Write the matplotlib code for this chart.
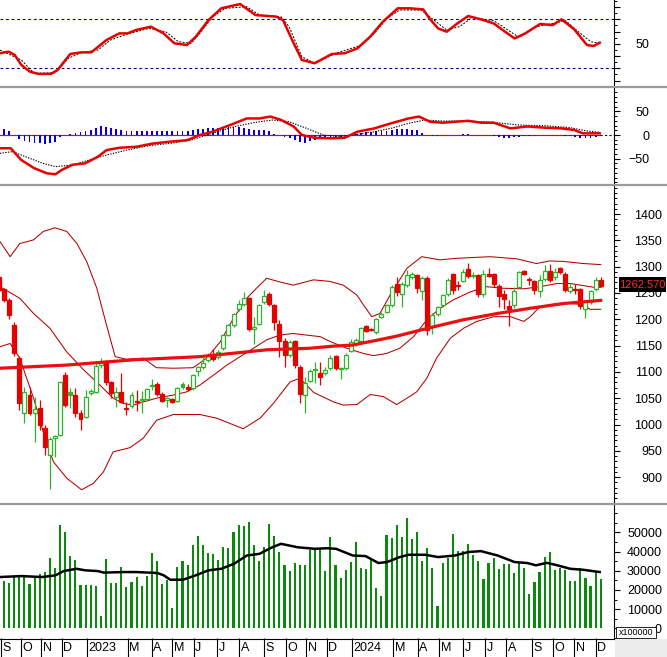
import numpy as np
import matplotlib.pyplot as plt
from matplotlib.patches import Rectangle
from matplotlib.lines import Line2D
from matplotlib.ticker import MultipleLocator

plt.rcParams['font.family'] = ['Liberation Sans', 'DejaVu Sans']

# ==============================
# DATA (weekly, first candle is cut by the left edge)
# ==============================
c_open = [1281, 1257, 1237, 1190, 1127, 1022, 1056, 1021, 1031, 993,
          942, 975, 981, 1094, 1056, 1056, 1022, 1014, 1060, 1062,
          1113, 1120, 1080, 1053, 1062, 1032, 1035, 1044, 1046, 1049,
          1074, 1077, 1058, 1047, 1048, 1045, 1071, 1072, 1069, 1102,
          1109, 1123, 1132, 1128, 1145, 1170, 1189, 1219, 1230, 1240,
          1181, 1192, 1233, 1248, 1227, 1192, 1158, 1132, 1158, 1110,
          1056, 1083, 1103, 1097, 1097, 1107, 1130, 1106, 1107, 1140,
          1154, 1159, 1187, 1181, 1175, 1205, 1214, 1227, 1267, 1248,
          1265, 1280, 1284, 1254, 1278, 1186, 1211, 1227, 1249, 1286,
          1266, 1273, 1295, 1282, 1284, 1248, 1287, 1286, 1263, 1249,
          1225, 1227, 1262, 1292, 1276, 1272, 1253, 1276, 1292, 1280,
          1298, 1286, 1254, 1258, 1257, 1219, 1232, 1257, 1275]
c_close = [1256, 1237, 1208, 1135, 1040, 1062, 1022, 1029, 999, 958,
           972, 978, 1081, 1037, 1062, 1022, 1010, 1053, 1063, 1112,
           1116, 1080, 1059, 1062, 1043, 1029, 1056, 1042, 1048, 1068,
           1076, 1058, 1045, 1051, 1043, 1069, 1077, 1067, 1094, 1109,
           1116, 1132, 1124, 1138, 1170, 1189, 1210, 1229, 1241, 1181,
           1186, 1227, 1244, 1229, 1195, 1158, 1132, 1156, 1113, 1058,
           1078, 1102, 1106, 1091, 1104, 1127, 1107, 1108, 1132, 1156,
           1161, 1183, 1178, 1179, 1200, 1211, 1227, 1262, 1251, 1267,
           1284, 1286, 1259, 1278, 1180, 1208, 1223, 1246, 1275, 1255,
           1264, 1290, 1282, 1284, 1248, 1286, 1282, 1267, 1244, 1238,
           1219, 1254, 1289, 1286, 1274, 1255, 1275, 1292, 1274, 1289,
           1289, 1256, 1262, 1256, 1225, 1232, 1253, 1274, 1262.57]
c_high = [1285, 1260, 1240, 1195, 1130, 1072, 1072, 1053, 1047, 999,
          977, 980, 1083, 1100, 1069, 1069, 1028, 1066, 1068, 1120,
          1127, 1122, 1083, 1072, 1097, 1043, 1062, 1066, 1064, 1069,
          1086, 1080, 1061, 1053, 1051, 1072, 1080, 1077, 1096, 1112,
          1128, 1135, 1143, 1141, 1173, 1192, 1212, 1237, 1252, 1243,
          1205, 1230, 1256, 1251, 1229, 1198, 1164, 1160, 1160, 1113,
          1091, 1106, 1119, 1119, 1110, 1132, 1132, 1110, 1135, 1162,
          1164, 1186, 1189, 1183, 1202, 1213, 1230, 1266, 1281, 1270,
          1293, 1290, 1287, 1282, 1282, 1212, 1226, 1248, 1278, 1288,
          1272, 1295, 1307, 1290, 1287, 1293, 1297, 1288, 1268, 1255,
          1236, 1262, 1291, 1294, 1281, 1274, 1284, 1303, 1305, 1297,
          1300, 1289, 1268, 1268, 1259, 1236, 1255, 1280, 1281]
c_low = [1252, 1233, 1200, 1130, 1028, 1002, 1018, 967, 990, 942,
         877, 938, 978, 1034, 1031, 1015, 990, 1012, 1056, 1060,
         1108, 1076, 1050, 1034, 1040, 1018, 1031, 1025, 1021, 1045,
         1066, 1054, 1042, 1033, 1040, 1043, 1068, 1064, 1066, 1092,
         1105, 1118, 1120, 1125, 1142, 1168, 1186, 1216, 1226, 1178,
         1153, 1190, 1230, 1226, 1180, 1129, 1110, 1128, 1108, 1040,
         1022, 1080, 1078, 1075, 1094, 1104, 1104, 1086, 1104, 1138,
         1150, 1157, 1176, 1177, 1173, 1203, 1212, 1224, 1245, 1224,
         1262, 1277, 1250, 1236, 1170, 1173, 1207, 1224, 1245, 1248,
         1256, 1270, 1279, 1278, 1243, 1243, 1280, 1262, 1224, 1220,
         1187, 1222, 1260, 1284, 1266, 1248, 1242, 1272, 1270, 1275,
         1286, 1252, 1250, 1248, 1220, 1202, 1229, 1254, 1262]
green_filled = [13, 35]
last_price = "1262.570"

volume = [24700, 23600, 26900, 26900, 26900, 23100, 26200, 28300, 29300, 36600,
          31400, 53800, 50200, 37700, 35600, 22600, 22600, 22600, 22000, 6400,
          36100, 23600, 23600, 31900, 21500, 24100, 26700, 22000, 27300, 39200,
          35000, 23100, 25200, 10600, 31900, 35000, 33000, 43400, 48100, 43400,
          39200, 38700, 35600, 42400, 41800, 50200, 53800, 53300, 55400, 43400,
          35000, 42400, 54300, 48100, 39800, 33000, 29900, 34000, 33000, 33000,
          40800, 41800, 41600, 29700, 47400, 33000, 26200, 30400, 34500, 45000,
          31400, 30900, 35600, 21000, 16800, 48600, 47000, 53800, 47600, 57500,
          46500, 50200, 35000, 41800, 31400, 11600, 34000, 36600, 49000, 40300,
          40300, 43900, 38200, 35000, 25700, 34000, 36600, 30900, 33500, 33500,
          28800, 34500, 31400, 17900, 24100, 29300, 37200, 39800, 30400, 31400,
          30400, 24700, 24700, 31400, 26200, 22000, 29300, 25700]

vol_ma_x = [-0.8, 3.4, 7.5, 10.1, 11.7, 14.2, 15.9, 18.4, 19.6, 23.4,
            25.9, 30.1, 31.3, 32.6, 35.1, 37.6, 40.1, 42.6, 45.1, 47.6,
            50.1, 52.6, 54.3, 57.6, 60.9, 63.4, 65.1, 68.4, 70.9, 73.4,
            75.1, 77.6, 79.3, 82.6, 85.1, 88.4, 91.0, 93.5, 96.8, 100.1,
            102.6, 104.3, 106.4, 108.5, 111.0, 113.5, 116.8]
vol_ma = [26700, 27200, 26700, 27600, 29800, 31000, 30200, 29800, 29000, 29300,
          29300, 28800, 27600, 25300, 25300, 27600, 30200, 31000, 33600, 37900,
          38800, 42200, 44000, 42200, 41400, 41700, 41400, 37900, 37600, 34000,
          34500, 37100, 38300, 38300, 37100, 37900, 39700, 40200, 37900, 34500,
          34000, 32800, 34100, 32800, 31000, 30500, 29300]

bb_up_x = [-0.8, 1.2, 3.1, 5.8, 7.7, 10.0, 12.3, 14.3, 16.2, 18.2, 20.1, 21.8,
           24.0, 27.3, 29.9, 33.2, 37.1, 39.7, 42.4, 45.0, 47.6, 49.5, 51.5,
           54.1, 56.7, 60.7, 63.9, 66.5, 69.2, 70.5, 72.1, 73.7, 75.7, 79.0,
           81.9, 85.5, 88.8, 95.3, 100.5, 104.4, 107.0, 109.7, 113.6, 117.0]
bb_up = [1348, 1319, 1344, 1351, 1367, 1374, 1367, 1344, 1310, 1259, 1189, 1129,
         1124, 1126, 1108, 1107, 1108, 1126, 1157, 1202, 1240, 1259, 1278,
         1271, 1265, 1275, 1272, 1265, 1246, 1227, 1205, 1211, 1246, 1297,
         1319, 1313, 1316, 1319, 1315, 1306, 1311, 1310, 1306, 1304]
bb_mid_x = [-0.8, 3.1, 5.8, 9.0, 12.3, 15.6, 18.8, 21.4, 23.4, 25.4, 27.3,
            29.9, 33.2, 35.8, 38.4, 41.1, 43.7, 46.3, 48.9, 51.5, 54.1, 56.7,
            59.3, 62.0, 63.9, 67.2, 70.5, 72.4, 75.0, 77.6, 80.3, 82.9, 85.5,
            88.1, 91.4, 94.6, 97.9, 101.9, 105.1, 108.4, 111.0, 113.6, 116.2, 117.0]
bb_mid = [1262, 1240, 1211, 1183, 1138, 1104, 1075, 1050, 1040, 1037, 1043,
          1050, 1056, 1062, 1075, 1094, 1113, 1129, 1145, 1161, 1170, 1173,
          1170, 1167, 1158, 1145, 1135, 1131, 1135, 1145, 1167, 1199, 1221,
          1237, 1252, 1262, 1259, 1258, 1262, 1268, 1268, 1264, 1260, 1261]
bb_low_x = [-0.8, 1.2, 3.1, 5.8, 7.7, 9.7, 12.3, 15.2, 17.5, 19.5, 21.4, 24.7,
            27.3, 29.9, 33.2, 38.4, 41.7, 46.9, 50.2, 52.8, 56.1, 58.0, 60.7,
            64.6, 66.5, 69.2, 71.8, 74.4, 77.0, 79.0, 80.9, 82.9, 84.8, 87.5,
            90.1, 92.7, 96.0, 99.3, 101.9, 103.2, 105.1, 108.4, 111.0, 113.6,
            114.9, 117.0]
bb_low = [1148, 1154, 1126, 1050, 986, 929, 898, 876, 888, 910, 948, 956,
          974, 1008, 1019, 1019, 1012, 992, 1012, 1040, 1081, 1088, 1061,
          1043, 1037, 1038, 1057, 1053, 1038, 1050, 1062, 1088, 1126, 1164,
          1183, 1196, 1205, 1205, 1196, 1205, 1224, 1230, 1230, 1228,
          1219, 1219]
ma_x = [-0.8, 12.3, 25.4, 38.4, 51.5, 60.0, 64.6, 68.3, 73.0, 77.0, 83.5,
        90.0, 96.7, 103.2, 109.7, 117.0]
ma = [1107, 1113, 1123, 1129, 1142, 1145, 1149, 1151, 1160, 1168, 1184,
      1199, 1211, 1221, 1230, 1236]

rsi_x = [-0.8, 0.9, 2.1, 3.4, 5.05, 6.7, 9.2, 10.5, 13.0, 15.1,
         17.1, 20.1, 22.6, 24.2, 25.9, 28.8, 31.3, 33.4, 35.9, 37.6,
         40.1, 42.6, 46.3, 49.3, 53.4, 54.7, 56.8, 58.4, 60.9, 64.3,
         66.8, 69.3, 71.8, 74.3, 77.2, 79.7, 82.2, 83.4, 85.1, 86.8,
         88.9, 91.0, 93.5, 96.0, 97.6, 100.1, 102.2, 105.1, 107.6, 109.3,
         111.8, 114.3, 115.6, 116.8]
rsi = [42.3, 43.6, 40.9, 32.7, 27.3, 25.4, 25.4, 28.6, 41.7, 43.0,
       43.0, 53.1, 58.5, 58.5, 61.3, 64.0, 58.5, 50.4, 49.0, 55.8,
       69.4, 79.0, 82.5, 73.5, 72.2, 69.4, 50.4, 36.8, 34.1, 41.7,
       42.3, 46.3, 55.8, 68.1, 79.0, 79.0, 78.1, 70.8, 62.6, 59.9,
       66.7, 72.7, 70.0, 66.7, 61.8, 54.4, 58.5, 66.2, 65.3, 70.0,
       61.8, 49.0, 48.2, 50.9]
rsi_sig_x = [-0.8, 3.4, 5.9, 10.1, 12.6, 15.1, 18.4, 20.9, 24.2, 28.4,
             31.7, 34.2, 36.7, 38.4, 40.9, 43.4, 47.6, 50.1, 54.3, 55.9,
             58.4, 60.9, 65.1, 70.1, 72.6, 75.1, 77.6, 81.8, 84.3, 86.8,
             89.3, 91.8, 96.0, 99.3, 101.0, 104.3, 107.6, 110.1, 112.6, 115.1,
             116.8]
rsi_sig = [44.9, 36.8, 25.9, 26.4, 38.1, 42.8, 44.9, 53.1, 58.0, 62.6,
           59.9, 51.7, 50.4, 58.5, 72.1, 79.0, 80.3, 73.5, 72.1, 64.0,
           39.5, 34.1, 42.3, 49.0, 58.5, 70.8, 77.6, 77.6, 69.4, 61.3,
           64.0, 71.6, 68.9, 59.9, 55.3, 64.0, 66.7, 68.9, 59.9, 51.7,
           50.4]

macd_x = [-0.8, 1.3, 3.4, 5.9, 8.4, 10.1, 11.3, 13.4, 15.9, 18.4,
          20.1, 22.6, 25.9, 29.2, 32.6, 35.9, 38.4, 40.9, 44.3, 47.6,
          50.1, 52.2, 54.3, 56.8, 58.4, 60.9, 64.3, 66.8, 69.3, 72.6,
          76.0, 79.3, 81.4, 83.5, 86.0, 88.5, 91.0, 93.5, 96.0, 99.3,
          102.6, 106.0, 109.3, 111.8, 113.5, 116.8]
macd = [-28, -28, -53, -70, -81, -83, -74, -63, -60, -46,
        -32, -27, -25, -18, -14, -11, 0, 7, 21, 35,
        35, 39, 32, 18, 0, -6, -7, -6, 7, 14,
        25, 35, 39, 28, 26, 28, 30, 26, 26, 14,
        18, 15.5, 14, 10.6, 3.5, 3.5]
macd_sig_x = [-0.8, 1.7, 4.2, 7.6, 10.1, 13.4, 16.7, 20.1, 24.2, 28.4,
              32.6, 36.7, 40.9, 45.1, 49.3, 52.6, 55.9, 59.3, 62.6, 65.9,
              69.3, 72.6, 75.9, 79.3, 82.6, 86.0, 91.0, 96.0, 101.0, 106.0,
              111.0, 114.3, 116.8]
macd_sig = [-38.7, -35.2, -45.8, -59.9, -66.9, -63.4, -52.8, -42.3, -31.7, -22.5,
            -17.6, -10.6, 3.5, 17.6, 26.8, 31.7, 28.2, 14.1, 0, -3.5,
            1.4, 7.0, 14.1, 24.6, 31.7, 29.6, 29.6, 26.8, 21.1, 19.7,
            15.5, 8.5, 5.6]
macd_hist = [12, 8, 0, -8, -12, -15, -17, -17, -18, -17,
             -14, -5, 0, 3, 4, 6, 8, 10, 14, 18,
             17, 14, 13, 10, 9, 9, 9, 9, 9, 9,
             8, 8, 8, 8, 9, 9, 9, 11, 12, 13,
             14, 14, 15, 16, 16, 17, 16, 15, 12, 10,
             10, 10, 9, 2, 0, -5, -7, -10, -14, -16,
             -12, -10, -9, -8, -8, -6, -5, -3, 0, 2,
             4, 6, 7, 8, 8, 9, 10, 12, 12, 12,
             11, 10, 5, 0, -2, -2, -1, 0, 0, 0,
             2, 2, 1, 0, 0, 0, -3, -5, -6, -6,
             -5, -4, -3, -2, -2, -1, 0, 0, 0, 0,
             -2, -3, -5, -6, -7, -6, -4, -3]

month_labels = ['S', 'O', 'N', 'D', '2023', 'M', 'A', 'M', 'J', 'J', 'A', 'S', 'O',
                'N', 'D', '2024', 'M', 'A', 'M', 'J', 'J', 'A', 'S', 'O', 'N', 'D']
month_pos = [-0.53, 3.39, 7.31, 11.31, 16.31, 24.24, 28.98, 33.0, 37.16, 41.76,
             46.08, 50.92, 55.25, 59.25, 63.27, 68.27, 76.35, 81.12, 85.29, 89.96,
             94.31, 98.49, 103.47, 107.65, 111.82, 115.98]

# ==============================
# LAYOUT (pixel boxes)
# ==============================
W, H = 667, 657
fig = plt.figure(figsize=(W / 100, H / 100), dpi=100)
fig.patch.set_facecolor('white')


def px_box(x0, y0, x1, y1):
    return [x0 / W, 1 - y1 / H, (x1 - x0) / W, (y1 - y0) / H]


ax_rsi = fig.add_axes(px_box(0, 0, 614, 87))
ax_macd = fig.add_axes(px_box(0, 88, 614, 183))
ax_price = fig.add_axes(px_box(0, 186, 614, 502))
ax_vol = fig.add_axes(px_box(0, 505, 614, 638))
ax_x = fig.add_axes(px_box(0, 638, 614, 657))

XL = (-0.784, 119.6)
RED = '#e60000'
GREEN = '#2db42d'
BBRED = '#b40000'

for ax in (ax_rsi, ax_macd, ax_price, ax_vol):
    ax.set_xlim(XL)
    for s in ('top', 'left', 'bottom'):
        ax.spines[s].set_visible(False)
    ax.spines['right'].set_linewidth(0.8)
    ax.set_xticks([])
    ax.yaxis.tick_right()
    ax.tick_params(axis='y', which='major', direction='out', length=4.5,
                   width=0.8, labelsize=9, colors='black')
    ax.tick_params(axis='y', which='minor', direction='out', length=2.5, width=0.7)

# ---- RSI panel ----
ax_rsi.set_ylim(14.7, 85.8)
ax_rsi.axhline(70, color='#000080', lw=0.8, ls=(0, (2.5, 2.5)))
ax_rsi.axhline(30, color='#000080', lw=0.8, ls=(0, (2.5, 2.5)))
ax_rsi.plot(rsi_sig_x, rsi_sig, color='black', lw=0.7, ls=(0, (2, 1.5)))
ax_rsi.plot(rsi_x, rsi, color=RED, lw=1.8)
ax_rsi.set_yticks([20, 30, 40, 50, 60, 70, 80], ['', '', '', '50', '', '', ''])
ax_rsi.yaxis.set_minor_locator(MultipleLocator(5))
ax_rsi.tick_params(axis='y', which='major', pad=21)

# ---- MACD panel ----
ax_macd.set_ylim(-101.5, 99.4)
xv = np.arange(len(macd_hist))
ax_macd.axhline(0, color='#0000c0', lw=0.8, ls=(0, (2, 2)))
ax_macd.plot([XL[0], 117], [0, 0], color=RED, lw=0.8)
ax_macd.bar(xv, macd_hist, width=0.35, color='#0000e6', zorder=2)
ax_macd.plot(macd_sig_x, macd_sig, color='black', lw=0.8, ls=(0, (1.2, 1.2)), zorder=3)
ax_macd.plot(macd_x, macd, color=RED, lw=1.8, zorder=4)
ax_macd.set_yticks([-50, 0, 50])
ax_macd.yaxis.set_minor_locator(MultipleLocator(10))
ax_macd.tick_params(axis='y', which='major', pad=21)

# ---- price panel ----
ax_price.set_ylim(852.7, 1453.4)
ax_price.plot(bb_up_x, bb_up, color=BBRED, lw=0.75, zorder=1)
ax_price.plot(bb_mid_x, bb_mid, color=BBRED, lw=0.75, zorder=1)
ax_price.plot(bb_low_x, bb_low, color=BBRED, lw=0.75, zorder=1)

xc = np.arange(-1, len(c_open) - 1)
o = np.array(c_open, dtype=float)
c = np.array(c_close, dtype=float)
hi = np.array(c_high, dtype=float)
lo = np.array(c_low, dtype=float)
up = c >= o
wick_cols = [GREEN if u else RED for u in up]
ax_price.vlines(xc, lo, hi, colors=wick_cols, lw=0.9, zorder=2)
body_bot = np.minimum(o, c)
body_h = np.maximum(np.abs(c - o), 1.3)
face = []
for i, u in zip(xc, up):
    if not u:
        face.append(RED)
    elif i in green_filled:
        face.append(GREEN)
    else:
        face.append('white')
edge = [GREEN if u else RED for u in up]
ax_price.bar(xc, body_h, bottom=body_bot, width=0.78, color=face,
             edgecolor=edge, linewidth=0.9, zorder=3)
ax_price.plot(ma_x, ma, color='#e81010', lw=2.3, zorder=4)

ax_price.set_yticks(np.arange(900, 1401, 50))
ax_price.yaxis.set_minor_locator(MultipleLocator(10))
ax_price.tick_params(axis='y', which='major', pad=30)

# ---- volume panel ----
ax_vol.set_ylim(-5052, 64219)
ax_vol.bar(np.arange(len(volume)), volume, width=0.42, color='#0a8a0a', zorder=2)
ax_vol.plot(vol_ma_x, vol_ma, color='black', lw=1.8, zorder=3)
ax_vol.set_yticks(np.arange(0, 50001, 10000))
ax_vol.yaxis.set_minor_locator(MultipleLocator(5000))
ax_vol.tick_params(axis='y', which='major', pad=30)

for ax in (ax_rsi, ax_macd, ax_price, ax_vol):
    for lab in ax.get_yticklabels():
        lab.set_horizontalalignment('right')

# ---- month strip ----
ax_x.set_xlim(XL)
ax_x.set_ylim(0, 1)
ax_x.axis('off')
ax_x.vlines(month_pos, 0, 1, colors='black', lw=0.8)
for p, lab in zip(month_pos, month_labels):
    ax_x.text(p + 0.3, 0.45, lab, ha='left', va='center', fontsize=9)

# ---- frame decorations ----
for yy in (87, 184.5, 503.5):
    fig.add_artist(Line2D([0, 1], [1 - yy / H, 1 - yy / H], color='#9a9a9a', lw=1.6))
fig.add_artist(Line2D([0, 614 / W], [1 - 638.5 / H, 1 - 638.5 / H], color='black', lw=0.8))
fig.add_artist(Rectangle((615 / W, 0), 52 / W, 18 / H, transform=fig.transFigure,
                         facecolor='#ececec', edgecolor='none'))

# last price tag
fig.add_artist(Rectangle((619 / W, 1 - 292 / H), 47 / W, 15 / H, transform=fig.transFigure,
                         facecolor='black', edgecolor='none', zorder=5))
fig.text(642.5 / W, 1 - 284.8 / H, last_price, color='#ff2a2a', fontsize=8,
         ha='center', va='center', zorder=6)

# volume multiplier box
fig.add_artist(Rectangle((616 / W, 1 - 638 / H), 40 / W, 11 / H, transform=fig.transFigure,
                         facecolor='white', edgecolor='black', lw=0.6, zorder=5))
fig.text(636 / W, 1 - 632.5 / H, 'x100000', fontsize=6.5, ha='center', va='center', zorder=6)

fig.savefig('out.png', dpi=100)
